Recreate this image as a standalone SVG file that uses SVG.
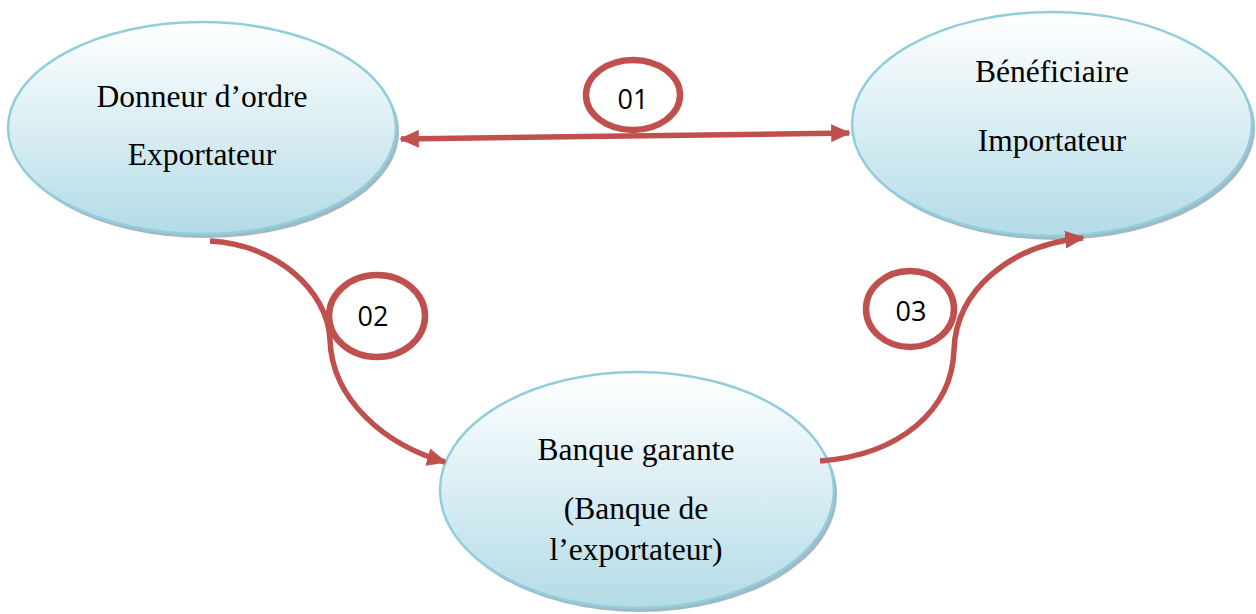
<svg xmlns="http://www.w3.org/2000/svg" width="1256" height="614" viewBox="0 0 1256 614">
<style>
.node{fill:url(#g);stroke:#92CDDC;stroke-width:2.5}
.shadow{fill:#7fa3b0;opacity:0.75}
.lbl{font-family:"Liberation Serif","Times New Roman",serif;font-size:31.5px;fill:#000;text-anchor:middle}
.num{font-family:"Open Sans","Liberation Sans",sans-serif;font-size:27px;fill:#000;text-anchor:middle}
.ring{fill:#fff;stroke:#C0504D;stroke-width:6.5}
.conn{fill:none;stroke:#C0504D;stroke-width:5.5}
</style>
<defs>
<linearGradient id="g" x1="0" y1="0" x2="0" y2="1">
<stop offset="0" stop-color="#ffffff"/>
<stop offset="0.55" stop-color="#d6ecf2"/>
<stop offset="1" stop-color="#b3dbe6"/>
</linearGradient>
<marker id="ah" viewBox="0 0 10 9" refX="9" refY="4.5" markerWidth="3.6" markerHeight="3.3" orient="auto-start-reverse" markerUnits="strokeWidth">
<path d="M0,0 L10,4.5 L0,9 Z" fill="#C0504D"/>
</marker>
</defs>
<g id="node-donneur">
<ellipse class="shadow" cx="205" cy="132" rx="194" ry="106"/>
<ellipse class="node" cx="202" cy="128" rx="194" ry="106"/>
<text class="lbl" x="202" y="107">Donneur d’ordre</text>
<text class="lbl" x="202" y="165">Exportateur</text>
</g>
<g id="node-beneficiaire">
<ellipse class="shadow" cx="1055" cy="128" rx="200" ry="112"/>
<ellipse class="node" cx="1052" cy="124" rx="200" ry="112"/>
<text class="lbl" x="1052" y="82">Bénéficiaire</text>
<text class="lbl" x="1052" y="151">Importateur</text>
</g>
<g id="node-banque">
<ellipse class="shadow" cx="640" cy="494" rx="197" ry="118"/>
<ellipse class="node" cx="637" cy="490" rx="197" ry="118"/>
<text class="lbl" x="636" y="460">Banque garante</text>
<text class="lbl" x="636" y="519">(Banque de</text>
<text class="lbl" x="636" y="560">l’exportateur)</text>
</g>
<g id="connectors">
<path class="conn" d="M401,139 L849,133" marker-start="url(#ah)" marker-end="url(#ah)"/>
<path class="conn" d="M210,241 C275,244 328,290 330,340 C332,400 385,445 445,462" marker-end="url(#ah)"/>
<path class="conn" d="M820,461 C900,455 952,410 954,350 C956,290 1010,245 1083,238" marker-end="url(#ah)"/>
</g>
<g id="label-01">
<ellipse class="ring" cx="633" cy="95" rx="47" ry="35"/>
<text class="num" x="633" y="109">01</text>
</g>
<g id="label-02">
<ellipse class="ring" cx="377" cy="316" rx="48" ry="41"/>
<text class="num" x="373" y="326">02</text>
</g>
<g id="label-03">
<ellipse class="ring" cx="910" cy="309" rx="44" ry="38"/>
<text class="num" x="911" y="321">03</text>
</g>
</svg>
